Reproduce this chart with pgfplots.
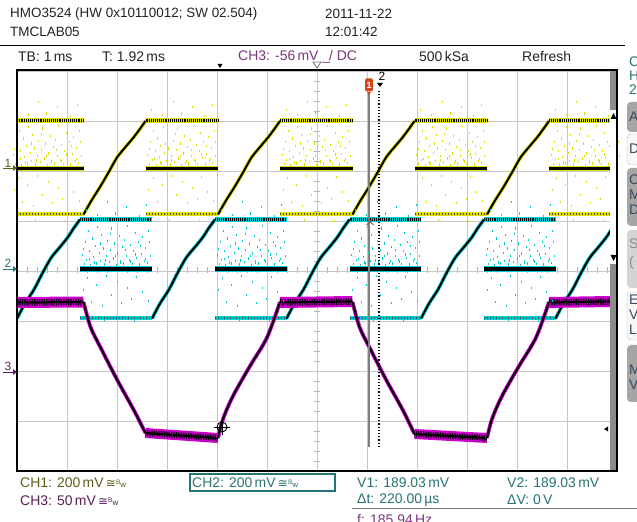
\documentclass[border=0pt]{standalone}
\usepackage{pgfplots}
\pgfplotsset{compat=1.18}
\usepackage{pgfplotstable}
\usepackage{fontspec}
\setmainfont{Liberation Sans}
\newfontfamily\dejavu{DejaVu Sans}

\definecolor{cy1}{RGB}{222,222,0}
\definecolor{cy2}{RGB}{0,205,210}
\definecolor{cy3}{RGB}{205,0,205}
\definecolor{t1}{RGB}{95,95,25}
\definecolor{t2}{RGB}{40,115,115}
\definecolor{t3}{RGB}{90,30,90}
\definecolor{tpur}{RGB}{125,55,125}
\definecolor{txt}{RGB}{35,35,35}
\definecolor{btn}{RGB}{165,165,165}
\definecolor{btnt}{RGB}{55,75,95}
\definecolor{flag}{RGB}{210,70,25}

\newcommand\hf{\fontsize{13.5}{15}\selectfont}
\newcommand\stf{\fontsize{14}{16}\selectfont}
\newcommand\bw{{\dejavu\fontsize{12}{12}\selectfont ≅}\raisebox{3bp}{\fontsize{6.5}{7}\selectfont B}{\fontsize{8}{8}\selectfont w}}

% noise dots of one flat segment (x relative to the segment start, in divisions)
\pgfplotstableread{
x y
0.04 6.32
0.08 6.14
0.10 6.58
0.13 6.22
0.16 6.80
0.19 6.40
0.21 6.12
0.24 6.65
0.27 6.28
0.30 6.50
0.32 6.15
0.35 6.88
0.38 6.36
0.41 6.20
0.43 6.72
0.46 6.45
0.49 6.13
0.52 6.30
0.55 6.60
0.58 6.18
0.61 6.42
0.63 6.85
0.66 6.25
0.69 6.55
0.72 6.12
0.75 6.35
0.78 6.70
0.81 6.20
0.84 6.48
0.86 6.15
0.89 6.62
0.92 6.30
0.95 6.90
0.98 6.22
1.01 6.52
1.04 6.14
1.07 6.40
1.10 6.76
1.13 6.26
1.16 6.58
1.19 6.13
1.22 6.34
1.25 6.68
1.28 6.20
1.31 6.46
1.34 6.16
1.37 6.80
1.40 6.30
0.07 6.44
0.18 6.24
0.29 6.17
0.40 6.55
0.51 6.21
0.60 6.74
0.70 6.30
0.80 6.16
0.91 6.42
1.00 6.19
1.11 6.33
1.21 6.50
1.30 6.24
1.39 6.58
0.12 7.22
0.34 7.12
0.55 7.38
0.71 7.15
0.93 7.28
1.18 7.10
1.33 7.32
0.06 5.62
0.15 5.86
0.23 5.38
0.33 5.72
0.44 5.30
0.53 5.90
0.62 5.52
0.74 5.78
0.83 5.36
0.94 5.66
1.03 5.44
1.12 5.88
1.24 5.58
1.36 5.40
0.48 5.02
1.08 5.00
}\dotsT

\begin{document}
\begin{tikzpicture}[x=1bp,y=1bp]
\useasboundingbox (0,0) rectangle (637,522);
\fill[white] (0,0) rectangle (637,522);
\clip (0,0) rectangle (637,522);

% header
\node[anchor=west,inner sep=0,text=txt,font=\hf] at (10,508) {HMO3524 (HW 0x10110012; SW 02.504)};
\node[anchor=west,inner sep=0,text=txt,font=\hf] at (10,490) {TMCLAB05};
\node[anchor=west,inner sep=0,text=txt,font=\hf] at (325,508) {2011-11-22};
\node[anchor=west,inner sep=0,text=txt,font=\hf] at (325,490) {12:01:42};
\draw[black,line width=1bp] (0,476) -- (625,476);

% status row
\node[anchor=west,inner sep=0,text=txt,font=\stf] at (18,465) {TB: 1\,ms};
\node[anchor=west,inner sep=0,text=txt,font=\stf] at (102,465) {T: 1.92\,ms};
\node[anchor=west,inner sep=0,text=tpur,font=\stf] at (238,465) {CH3: -56\,mV \_\kern-1bp/ DC};
\node[anchor=west,inner sep=0,text=txt,font=\stf] at (419,465) {500\,kSa};
\node[anchor=west,inner sep=0,text=txt,font=\stf] at (522,465) {Refresh};

% right side panel (cut off at the edge, as in the screenshot)
\node[anchor=west,inner sep=0,text=t2,font=\stf] at (629,460) {C};
\node[anchor=west,inner sep=0,text=t2,font=\stf] at (629,446) {H};
\node[anchor=west,inner sep=0,text=t2,font=\stf] at (629,432) {2};
\fill[btn,rounded corners=4bp] (627,390) rectangle (660,420);
\draw[black!25,fill=black!3,rounded corners=4bp] (627,357) rectangle (660,388);
\fill[btn,rounded corners=4bp] (627,296) rectangle (660,354);
\fill[black!17,rounded corners=4bp] (627,234) rectangle (660,292);
\draw[black!25,fill=black!3,rounded corners=4bp] (627,182) rectangle (660,230);
\fill[btn,rounded corners=4bp] (627,120) rectangle (660,177);
\node[anchor=west,inner sep=0,text=btnt,font=\stf] at (629,405) {A};
\node[anchor=west,inner sep=0,text=btnt,font=\stf] at (629,373) {D};
\node[anchor=west,inner sep=0,text=btnt,font=\stf] at (629,342) {C};
\node[anchor=west,inner sep=0,text=btnt,font=\stf] at (629,327) {M};
\node[anchor=west,inner sep=0,text=btnt,font=\stf] at (629,312) {D};
\node[anchor=west,inner sep=0,text=black!45,font=\stf] at (629,278) {S};
\node[anchor=west,inner sep=0,text=black!45,font=\stf] at (629,259) {(};
\node[anchor=west,inner sep=0,text=btnt,font=\stf] at (629,222) {E};
\node[anchor=west,inner sep=0,text=btnt,font=\stf] at (629,207) {V};
\node[anchor=west,inner sep=0,text=btnt,font=\stf] at (629,192) {L};
\node[anchor=west,inner sep=0,text=btnt,font=\stf] at (629,152) {M};
\node[anchor=west,inner sep=0,text=btnt,font=\stf] at (629,137) {V};

% centre graticule ticks
\foreach \i in {1,...,59} \draw[black!30,line width=0.8bp] ({17+10*\i},249) -- ({17+10*\i},255);
\foreach \j in {1,...,39} \draw[black!30,line width=0.8bp] (314,{51+10*\j}) -- (320,{51+10*\j});

\begin{axis}[at={(17bp,51bp)},anchor=south west,width=600bp,height=400bp,scale only axis,
  xmin=0,xmax=12,ymin=0,ymax=8,xtick={0,...,12},ytick={0,...,8},
  xticklabels={},yticklabels={},major tick length=0pt,
  grid=major,major grid style={draw=black!22,line width=0.9bp},
  axis line style={draw=none},unbounded coords=jump]

% ---- CH1 noise dots
\pgfplotsinvokeforeach{-6,128.5,263,397.5,532}{
 \addplot[only marks,mark=|,mark size=1.4bp,cy1,line width=0.8bp,xshift=#1 bp] table {\dotsT};
}
% ---- CH2 noise dots
\pgfplotsinvokeforeach{63,198,332.5,467}{
 \addplot[only marks,mark=|,mark size=1.4bp,cy2,line width=0.8bp,xshift=#1 bp,yshift=-100bp] table {\dotsT};
}

% ---- CH1 flat levels
\addplot[cy1,line width=5bp] coordinates {(-0.12,7.0)(1.33,7.0)(1.33,nan)(2.57,7.0)(4.02,7.0)(4.02,nan)(5.26,7.0)(6.71,7.0)(6.71,nan)(7.95,7.0)(9.40,7.0)(9.40,nan)(10.64,7.0)(11.86,7.0)};
\addplot[black,line width=3bp,dash pattern=on 0.7bp off 1.2bp] coordinates {(-0.12,7.0)(1.33,7.0)(1.33,nan)(2.57,7.0)(4.02,7.0)(4.02,nan)(5.26,7.0)(6.71,7.0)(6.71,nan)(7.95,7.0)(9.40,7.0)(9.40,nan)(10.64,7.0)(11.86,7.0)};
\addplot[cy1,line width=5.5bp] coordinates {(-0.12,6.05)(1.33,6.05)(1.33,nan)(2.57,6.05)(4.02,6.05)(4.02,nan)(5.26,6.05)(6.71,6.05)(6.71,nan)(7.95,6.05)(9.40,6.05)(9.40,nan)(10.64,6.05)(11.86,6.05)};
\addplot[black,line width=3.2bp] coordinates {(-0.12,6.05)(1.33,6.05)(1.33,nan)(2.57,6.05)(4.02,6.05)(4.02,nan)(5.26,6.05)(6.71,6.05)(6.71,nan)(7.95,6.05)(9.40,6.05)(9.40,nan)(10.64,6.05)(11.86,6.05)};
\addplot[cy1,line width=4bp] coordinates {(-0.12,5.13)(1.33,5.13)(1.33,nan)(2.57,5.13)(4.02,5.13)(4.02,nan)(5.26,5.13)(6.71,5.13)(6.71,nan)(7.95,5.13)(9.40,5.13)(9.40,nan)(10.64,5.13)(11.86,5.13)};
\addplot[black!70,line width=2bp,dash pattern=on 0.6bp off 2.4bp] coordinates {(-0.12,5.13)(1.33,5.13)(1.33,nan)(2.57,5.13)(4.02,5.13)(4.02,nan)(5.26,5.13)(6.71,5.13)(6.71,nan)(7.95,5.13)(9.40,5.13)(9.40,nan)(10.64,5.13)(11.86,5.13)};

% ---- CH2 flat levels
\addplot[cy2,line width=5bp] coordinates {(1.26,5.03)(2.70,5.03)(2.70,nan)(3.96,5.03)(5.39,5.03)(5.39,nan)(6.65,5.03)(8.08,5.03)(8.08,nan)(9.34,5.03)(10.77,5.03)};
\addplot[black,line width=3bp,dash pattern=on 0.7bp off 1.2bp] coordinates {(1.26,5.03)(2.70,5.03)(2.70,nan)(3.96,5.03)(5.39,5.03)(5.39,nan)(6.65,5.03)(8.08,5.03)(8.08,nan)(9.34,5.03)(10.77,5.03)};
\addplot[cy2,line width=5.5bp] coordinates {(1.26,4.04)(2.70,4.04)(2.70,nan)(3.96,4.04)(5.39,4.04)(5.39,nan)(6.65,4.04)(8.08,4.04)(8.08,nan)(9.34,4.04)(10.77,4.04)};
\addplot[black,line width=3.2bp] coordinates {(1.26,4.04)(2.70,4.04)(2.70,nan)(3.96,4.04)(5.39,4.04)(5.39,nan)(6.65,4.04)(8.08,4.04)(8.08,nan)(9.34,4.04)(10.77,4.04)};
\addplot[cy2,line width=4bp] coordinates {(1.26,3.05)(2.70,3.05)(2.70,nan)(3.96,3.05)(5.39,3.05)(5.39,nan)(6.65,3.05)(8.08,3.05)(8.08,nan)(9.34,3.05)(10.77,3.05)};
\addplot[black!70,line width=2bp,dash pattern=on 0.6bp off 2.4bp] coordinates {(1.26,3.05)(2.70,3.05)(2.70,nan)(3.96,3.05)(5.39,3.05)(5.39,nan)(6.65,3.05)(8.08,3.05)(8.08,nan)(9.34,3.05)(10.77,3.05)};

% ---- CH1 ramps
\addplot[cy1,line width=3.6bp,smooth] coordinates {(1.33,5.13)(1.49,5.41)(1.66,5.68)(1.83,5.97)(2.00,6.27)(2.17,6.48)(2.33,6.67)(2.45,6.83)(2.57,7.00)(2.57,nan)
(4.02,5.13)(4.18,5.41)(4.35,5.68)(4.52,5.97)(4.69,6.27)(4.86,6.48)(5.02,6.67)(5.14,6.83)(5.26,7.00)(5.26,nan)
(6.71,5.13)(6.87,5.41)(7.04,5.68)(7.21,5.97)(7.38,6.27)(7.55,6.48)(7.71,6.67)(7.83,6.83)(7.95,7.00)(7.95,nan)
(9.40,5.13)(9.56,5.41)(9.73,5.68)(9.90,5.97)(10.07,6.27)(10.24,6.48)(10.40,6.67)(10.52,6.83)(10.64,7.00)};
\addplot[black,line width=2bp,smooth] coordinates {(1.33,5.13)(1.49,5.41)(1.66,5.68)(1.83,5.97)(2.00,6.27)(2.17,6.48)(2.33,6.67)(2.45,6.83)(2.57,7.00)(2.57,nan)
(4.02,5.13)(4.18,5.41)(4.35,5.68)(4.52,5.97)(4.69,6.27)(4.86,6.48)(5.02,6.67)(5.14,6.83)(5.26,7.00)(5.26,nan)
(6.71,5.13)(6.87,5.41)(7.04,5.68)(7.21,5.97)(7.38,6.27)(7.55,6.48)(7.71,6.67)(7.83,6.83)(7.95,7.00)(7.95,nan)
(9.40,5.13)(9.56,5.41)(9.73,5.68)(9.90,5.97)(10.07,6.27)(10.24,6.48)(10.40,6.67)(10.52,6.83)(10.64,7.00)};

% ---- CH2 ramps
\addplot[cy2,line width=3.6bp,smooth] coordinates {(0,3.05)(0.16,3.35)(0.34,3.63)(0.50,3.94)(0.68,4.26)(0.86,4.48)(1.02,4.68)(1.13,4.85)(1.26,5.03)(1.26,nan)
(2.70,3.05)(2.86,3.35)(3.04,3.63)(3.20,3.94)(3.38,4.26)(3.56,4.48)(3.72,4.68)(3.83,4.85)(3.96,5.03)(3.96,nan)
(5.39,3.05)(5.55,3.35)(5.73,3.63)(5.89,3.94)(6.07,4.26)(6.25,4.48)(6.41,4.68)(6.52,4.85)(6.65,5.03)(6.65,nan)
(8.08,3.05)(8.24,3.35)(8.42,3.63)(8.58,3.94)(8.76,4.26)(8.94,4.48)(9.10,4.68)(9.21,4.85)(9.34,5.03)(9.34,nan)
(10.77,3.05)(10.93,3.35)(11.11,3.63)(11.27,3.94)(11.45,4.26)(11.63,4.48)(11.79,4.68)(11.90,4.85)};
\addplot[black,line width=2bp,smooth] coordinates {(0,3.05)(0.16,3.35)(0.34,3.63)(0.50,3.94)(0.68,4.26)(0.86,4.48)(1.02,4.68)(1.13,4.85)(1.26,5.03)(1.26,nan)
(2.70,3.05)(2.86,3.35)(3.04,3.63)(3.20,3.94)(3.38,4.26)(3.56,4.48)(3.72,4.68)(3.83,4.85)(3.96,5.03)(3.96,nan)
(5.39,3.05)(5.55,3.35)(5.73,3.63)(5.89,3.94)(6.07,4.26)(6.25,4.48)(6.41,4.68)(6.52,4.85)(6.65,5.03)(6.65,nan)
(8.08,3.05)(8.24,3.35)(8.42,3.63)(8.58,3.94)(8.76,4.26)(8.94,4.48)(9.10,4.68)(9.21,4.85)(9.34,5.03)(9.34,nan)
(10.77,3.05)(10.93,3.35)(11.11,3.63)(11.27,3.94)(11.45,4.26)(11.63,4.48)(11.79,4.68)(11.90,4.85)};

% ---- CH3
\addplot[cy3,line width=11bp] coordinates {(0,3.37)(1.33,3.38)(1.33,nan)(5.26,3.37)(6.71,3.39)(6.71,nan)(10.64,3.37)(11.86,3.39)};
\addplot[black,line width=6.5bp,dash pattern=on 0.8bp off 0.9bp] coordinates {(0,3.37)(1.33,3.38)(1.33,nan)(5.26,3.37)(6.71,3.39)(6.71,nan)(10.64,3.37)(11.86,3.39)};
\addplot[black,line width=2bp] coordinates {(0,3.37)(1.33,3.38)(1.33,nan)(5.26,3.37)(6.71,3.39)(6.71,nan)(10.64,3.37)(11.86,3.39)};
\addplot[cy3,line width=10bp] coordinates {(2.57,0.76)(4.02,0.66)(4.02,nan)(7.95,0.74)(9.40,0.66)};
\addplot[black,line width=6bp,dash pattern=on 0.8bp off 0.9bp] coordinates {(2.57,0.76)(4.02,0.66)(4.02,nan)(7.95,0.74)(9.40,0.66)};
\addplot[black,line width=2.2bp] coordinates {(2.57,0.76)(4.02,0.66)(4.02,nan)(7.95,0.74)(9.40,0.66)};
\addplot[cy3,line width=3.8bp,smooth] coordinates {(1.33,3.38)(1.47,2.88)(1.66,2.49)(2.01,1.81)(2.33,1.23)(2.57,0.76)(2.57,nan)
(4.02,0.66)(4.12,1.04)(4.32,1.50)(4.66,2.10)(5.00,2.67)(5.26,3.38)(5.26,nan)
(6.71,3.38)(6.85,2.88)(7.04,2.49)(7.39,1.81)(7.71,1.23)(7.95,0.74)(7.95,nan)
(9.40,0.66)(9.50,1.04)(9.70,1.50)(10.04,2.10)(10.38,2.67)(10.64,3.38)};
\addplot[black,line width=2bp,smooth] coordinates {(1.33,3.38)(1.47,2.88)(1.66,2.49)(2.01,1.81)(2.33,1.23)(2.57,0.76)(2.57,nan)
(4.02,0.66)(4.12,1.04)(4.32,1.50)(4.66,2.10)(5.00,2.67)(5.26,3.38)(5.26,nan)
(6.71,3.38)(6.85,2.88)(7.04,2.49)(7.39,1.81)(7.71,1.23)(7.95,0.74)(7.95,nan)
(9.40,0.66)(9.50,1.04)(9.70,1.50)(10.04,2.10)(10.38,2.67)(10.64,3.38)};

% ---- cursors
\draw[black!50,line width=1.8bp] (axis cs:7.04,0.48) -- (axis cs:7.04,7.55);
\draw[black,line width=1.1bp,dash pattern=on 1.2bp off 2bp] (axis cs:7.24,0.48) -- (axis cs:7.24,7.6);
\draw[black,line width=0.9bp] (axis cs:4.10,0.88) circle[radius=5bp];
\draw[black,line width=0.9bp] (axis cs:3.94,0.88) -- (axis cs:4.26,0.88) (axis cs:4.10,0.72) -- (axis cs:4.10,1.04);
\draw[black!60,line width=0.9bp] (axis cs:6.99,4.92) -- (axis cs:7.13,5.06) (axis cs:6.99,5.06) -- (axis cs:7.13,4.92);
\end{axis}

% flag and label of the cursors
\node[fill=flag,text=white,inner sep=1bp,rounded corners=1.5bp,font=\fontsize{9}{9}\selectfont\bfseries,minimum width=8bp,minimum height=13bp] at (369,437) {1};
\fill[flag] (367,430) -- (371,430) -- (369,427) -- cycle;
\node[inner sep=0,text=black,font=\fontsize{12}{12}\selectfont] at (382,446) {2};
\fill[black] (377,439) -- (383,439) -- (380,435) -- cycle;

% scroll bar
\fill[white] (610,51) rectangle (617,452);
\fill[black!45] (610,412) rectangle (617,452);
\fill[black!45] (610,51) rectangle (617,258);
\fill[black] (610.5,403) -- (616.5,403) -- (613.5,409) -- cycle;
\fill[black] (610.5,267) -- (616.5,267) -- (613.5,261) -- cycle;
\fill[black] (604,93) -- (608,95.5) -- (608,90.5) -- cycle;

% frame
\draw[black,line width=1.2bp] (17,51) rectangle (617,452);

% trigger markers
\fill[black] (217.5,458) -- (222.5,458) -- (220,454) -- cycle;
\draw[black!55,line width=0.8bp] (313,460) -- (321,460) -- (317,454) -- cycle;

% channel markers
\node[inner sep=0,text=t1,font=\fontsize{12}{12}\selectfont] at (8,359) {1};
\draw[t1,line width=0.9bp] (3,354) -- (14,354); \fill[t1] (13,351) -- (17,354) -- (13,357) -- cycle;
\node[inner sep=0,text=t2,font=\fontsize{12}{12}\selectfont] at (8,259) {2};
\draw[t2,line width=0.9bp] (3,253) -- (14,253); \fill[t2] (13,250) -- (17,253) -- (13,256) -- cycle;
\node[inner sep=0,text=t3,font=\fontsize{12}{12}\selectfont] at (8,156) {3};
\draw[t3,line width=0.9bp] (3,150) -- (14,150); \fill[t3] (13,147) -- (17,150) -- (13,153) -- cycle;

% bottom info
\node[anchor=west,inner sep=0,text=t1,font=\stf] at (20,39) {CH1: 200\,mV\,\bw};
\node[anchor=west,inner sep=0,text=t3,font=\stf] at (20,21) {CH3: 50\,mV\,\bw};
\draw[t2,line width=1.2bp] (190,31) rectangle (335,48);
\node[anchor=west,inner sep=0,text=t2,font=\stf] at (192,39.5) {CH2: 200\,mV\,\bw};
\node[anchor=west,inner sep=0,text=t2,font=\stf] at (357,39) {V1: 189.03\,mV};
\node[anchor=west,inner sep=0,text=t2,font=\stf] at (357,22) {Δt: 220.00\,µs};
\node[anchor=west,inner sep=0,text=t2,font=\stf] at (507,39) {V2: 189.03\,mV};
\node[anchor=west,inner sep=0,text=t2,font=\stf] at (507,22) {ΔV: 0\,V};
\draw[black!55,line width=1bp] (352,13) -- (637,13);
\node[anchor=west,inner sep=0,text=tpur,font=\stf] at (357,2) {f: 185.94\,Hz};
\end{tikzpicture}
\end{document}
